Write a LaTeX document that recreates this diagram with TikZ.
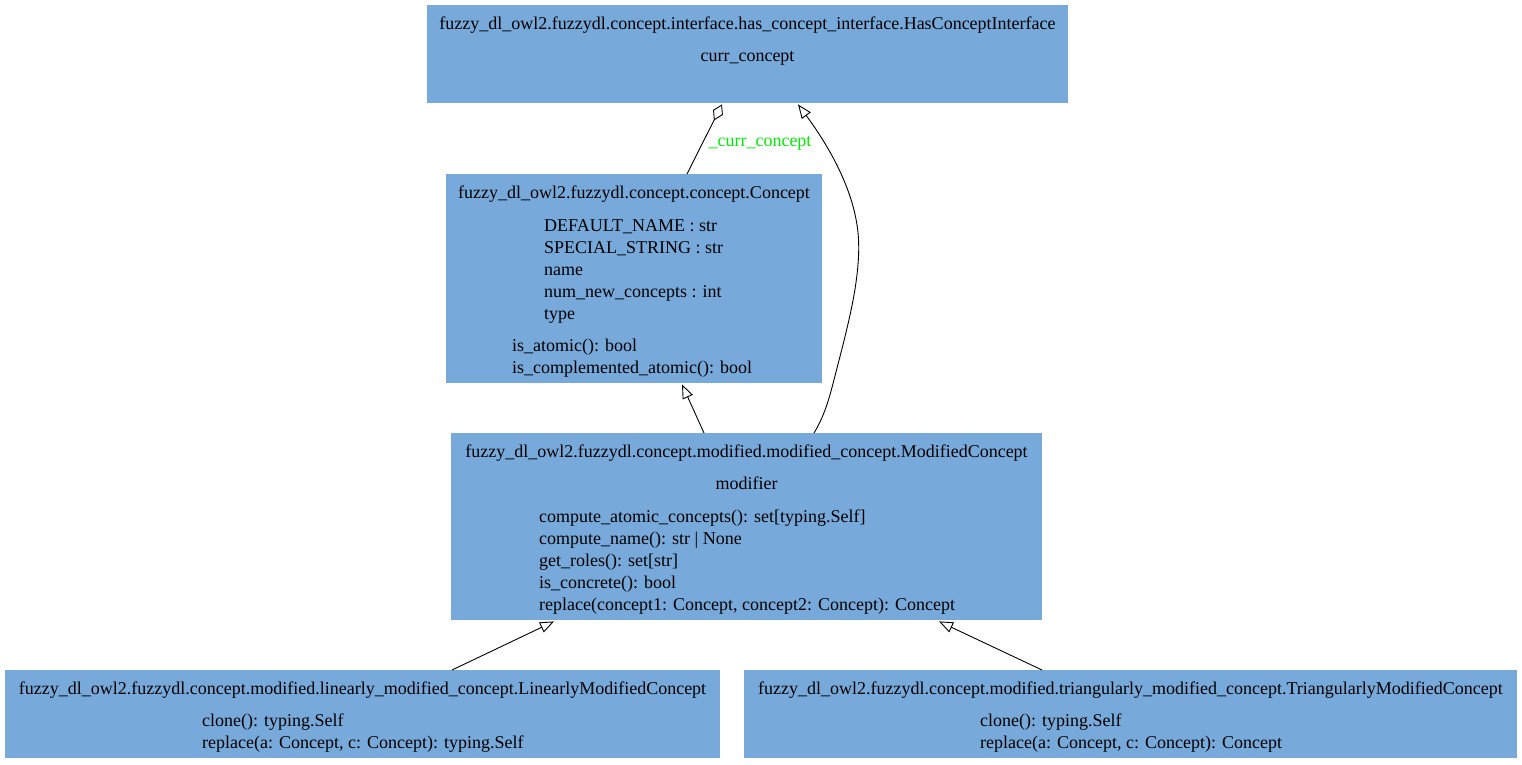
\documentclass[tikz,border=0pt]{standalone}
\usepackage{fontspec}
\setmainfont{Liberation Serif}
\usetikzlibrary{arrows.meta,calc}
\definecolor{boxblue}{HTML}{77A9DB}
\definecolor{labelgreen}{HTML}{00EE00}
\begin{document}
\begin{tikzpicture}[x=1pt,y=-1pt,
  classbox/.style={fill=boxblue,draw=none,inner sep=0pt,anchor=north west},
  txt/.style={inner sep=0pt,anchor=base,font=\fontsize{18}{20}\selectfont},
  ltxt/.style={inner sep=0pt,anchor=base west,font=\fontsize{18}{20}\selectfont},
  inherit/.style={draw=black,line width=0.9pt,-{Triangle[open,length=14pt,width=11pt]}},
  aggreg/.style={draw=black,line width=0.9pt,-{Diamond[open,length=18pt,width=11pt]}},
  edgelabel/.style={inner sep=0pt,anchor=base,text=labelgreen,font=\fontsize{18}{20}\selectfont}]
\useasboundingbox (0,0) rectangle (1522,764);

% class boxes
\node[classbox,minimum width=641pt,minimum height=98pt] (hci) at (427,5) {};
\node[classbox,minimum width=376pt,minimum height=209pt] (concept) at (446,174) {};
\node[classbox,minimum width=591pt,minimum height=187pt] (modc) at (451,433) {};
\node[classbox,minimum width=715pt,minimum height=88pt] (lin) at (5,670) {};
\node[classbox,minimum width=773pt,minimum height=88pt] (tri) at (744,670) {};

% HasConceptInterface
\node[txt] (hcititle) at (747.5,29) {fuzzy\_dl\_owl2.fuzzydl.concept.interface.has\_concept\_interface.HasConceptInterface};
\node[txt] (hcia1) at (747.5,61) {curr\_concept};

% Concept
\node[txt] (ctitle) at (634,198) {fuzzy\_dl\_owl2.fuzzydl.concept.concept.Concept};
\node[ltxt] (ca1) at (544,231) {DEFAULT\_NAME : str};
\node[ltxt] (ca2) at (544,253) {SPECIAL\_STRING : str};
\node[ltxt] (ca3) at (544,275) {name};
\node[ltxt] (ca4) at (544,297) {num\_new\_concepts : int};
\node[ltxt] (ca5) at (544,319) {type};
\node[ltxt] (cm1) at (512,351) {is\_atomic(): bool};
\node[ltxt] (cm2) at (512,373) {is\_complemented\_atomic(): bool};

% ModifiedConcept
\node[txt] (mtitle) at (746.5,457) {fuzzy\_dl\_owl2.fuzzydl.concept.modified.modified\_concept.ModifiedConcept};
\node[txt] (ma1) at (746.5,489) {modifier};
\node[ltxt] (mm1) at (539,522) {compute\_atomic\_concepts(): set[typing.Self]};
\node[ltxt] (mm2) at (539,544) {compute\_name(): str | None};
\node[ltxt] (mm3) at (539,566) {get\_roles(): set[str]};
\node[ltxt] (mm4) at (539,588) {is\_concrete(): bool};
\node[ltxt] (mm5) at (539,610) {replace(concept1: Concept, concept2: Concept): Concept};

% LinearlyModifiedConcept
\node[txt] (ltitle) at (362.5,694) {fuzzy\_dl\_owl2.fuzzydl.concept.modified.linearly\_modified\_concept.LinearlyModifiedConcept};
\node[ltxt] (lm1) at (202,726) {clone(): typing.Self};
\node[ltxt] (lm2) at (202,748) {replace(a: Concept, c: Concept): typing.Self};

% TriangularlyModifiedConcept
\node[txt] (ttitle) at (1130.5,694) {fuzzy\_dl\_owl2.fuzzydl.concept.modified.triangularly\_modified\_concept.TriangularlyModifiedConcept};
\node[ltxt] (tm1) at (980,726) {clone(): typing.Self};
\node[ltxt] (tm2) at (980,748) {replace(a: Concept, c: Concept): Concept};

% connector end points on the box borders
\coordinate (c-agg-s) at ($(concept.north west)+(241,0)$);
\coordinate (c-agg-e) at ($(hci.south west)+(295,1)$);
\coordinate (m-hci-s) at ($(modc.north west)+(363,0)$);
\coordinate (m-hci-e) at ($(hci.south west)+(371,1)$);
\coordinate (m-c-s) at ($(modc.north west)+(253,0)$);
\coordinate (m-c-e) at ($(concept.south west)+(236,1)$);
\coordinate (l-m-s) at ($(lin.north west)+(447,0)$);
\coordinate (l-m-e) at ($(modc.south west)+(103,1)$);
\coordinate (t-m-s) at ($(tri.north west)+(298,0)$);
\coordinate (t-m-e) at ($(modc.south west)+(488,1)$);

% connectors
\draw[aggreg] (c-agg-s) -- (c-agg-e);
\node[edgelabel] (aggl) at (760,146) {\_curr\_concept};
\draw[inherit] (m-hci-s) .. controls (826,413) and (830,395) .. (836,372)
  .. controls (848,325) and (864,268) .. (857,225)
  .. controls (851,185) and (828,145) .. (m-hci-e);
\draw[inherit] (m-c-s) -- (m-c-e);
\draw[inherit] (l-m-s) -- (l-m-e);
\draw[inherit] (t-m-s) -- (t-m-e);
\end{tikzpicture}
\end{document}
